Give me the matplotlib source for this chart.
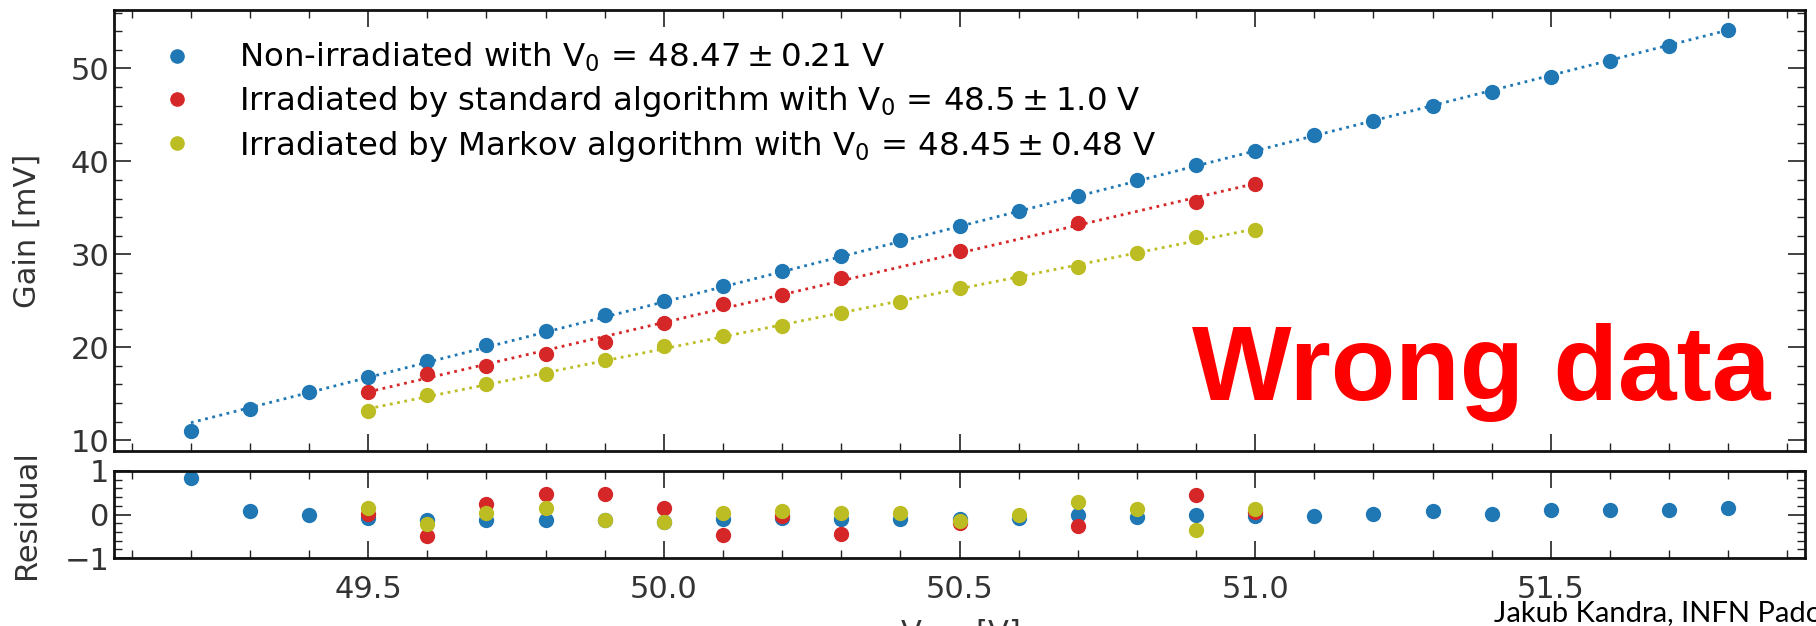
import numpy as np
import matplotlib
matplotlib.use("Agg")
import matplotlib.pyplot as plt
from matplotlib.ticker import MultipleLocator

# ---------------- data ----------------
v_blue = [49.2, 49.3, 49.4, 49.5, 49.6, 49.7, 49.8, 49.9, 50.0, 50.1, 50.2, 50.3, 50.4,
          50.5, 50.6, 50.7, 50.8, 50.9, 51.0, 51.1, 51.2, 51.3, 51.4, 51.5, 51.6, 51.7, 51.8]
g_blue = [11.0, 13.4, 15.2, 16.8, 18.5, 20.2, 21.8, 23.5, 25.0, 26.6, 28.2, 29.8, 31.5,
          33.1, 34.7, 36.3, 38.0, 39.6, 41.1, 42.8, 44.3, 46.0, 47.5, 49.1, 50.8, 52.4, 54.1]
r_blue = [0.85, 0.07, -0.02, -0.08, -0.13, -0.13, -0.12, -0.12, -0.17, -0.11, -0.09, -0.1, -0.1,
          -0.1, -0.09, 0.0, -0.06, -0.02, -0.04, -0.03, 0.02, 0.07, 0.01, 0.11, 0.11, 0.11, 0.16]

v_red = [49.5, 49.6, 49.7, 49.8, 49.9, 50.0, 50.1, 50.2, 50.3, 50.5, 50.7, 50.9, 51.0]
g_red = [15.2, 17.1, 18.0, 19.3, 20.6, 22.6, 24.7, 25.6, 27.5, 30.4, 33.4, 35.6, 37.6]
r_red = [0.02, -0.5, 0.23, 0.48, 0.48, 0.16, -0.48, -0.03, -0.44, -0.2, -0.26, 0.44, 0.06]

v_yel = [49.5, 49.6, 49.7, 49.8, 49.9, 50.0, 50.1, 50.2, 50.3, 50.4, 50.5, 50.6, 50.7, 50.8, 50.9, 51.0]
g_yel = [13.2, 14.9, 16.0, 17.1, 18.6, 20.1, 21.2, 22.3, 23.7, 24.9, 26.4, 27.5, 28.6, 30.1, 31.9, 32.6]
r_yel = [0.14, -0.22, 0.03, 0.15, -0.13, -0.17, 0.03, 0.07, 0.03, 0.03, -0.16, -0.01, 0.28, 0.13, -0.36, 0.12]

labels = [r"Non-irradiated with V$_0$ = $48.47 \pm 0.21$ V",
          r"Irradiated by standard algorithm with V$_0$ = $48.5 \pm 1.0$ V",
          r"Irradiated by Markov algorithm with V$_0$ = $48.45 \pm 0.48$ V"]
colors = ["#1f77b4", "#d62728", "#bcbd22"]

# ---------------- figure ----------------
plt.rcParams["font.family"] = ["DejaVu Sans"]
plt.rcParams["mathtext.default"] = "regular"
W, H = 1816, 626
fig = plt.figure(figsize=(W / 100, H / 100), dpi=100)

def frac(l, r, t, b):
    return [l / W, 1 - b / H, (r - l) / W, (b - t) / H]

ax = fig.add_axes(frac(114, 1805, 10, 451))
ax2 = fig.add_axes(frac(114, 1805, 471, 558), sharex=ax)

series = [(v_blue, g_blue, r_blue), (v_red, g_red, r_red), (v_yel, g_yel, r_yel)]
for (v, g, r), c, lab in zip(series, colors, labels):
    v = np.asarray(v); g = np.asarray(g)
    k, b0 = np.polyfit(v, g, 1)
    xs = np.array([v.min(), v.max()])
    ax.plot(xs, k * xs + b0, ls=":", color=c, lw=2.0)
    ax.plot(v, g, "o", ls="none", color=c, ms=10, label=lab)
    ax2.plot(v, r, "o", ls="none", color=c, ms=10)

ax2.set_ylim(-1, 1)
ax2.set_yticks([-1, 0, 1])
ax2.yaxis.set_minor_locator(MultipleLocator(0.2))
ax.xaxis.set_major_locator(MultipleLocator(0.5))
ax.xaxis.set_minor_locator(MultipleLocator(0.1))
ax.yaxis.set_major_locator(MultipleLocator(10))
ax.yaxis.set_minor_locator(MultipleLocator(2))

for a in (ax, ax2):
    a.tick_params(which="both", direction="in", top=True, right=True, labelsize=22,
                  colors="#222222", labelcolor="#333333")
    a.tick_params(which="major", length=12, width=1.2)
    a.tick_params(which="minor", length=6, width=1.0)
    for s in a.spines.values():
        s.set_linewidth(2.0)
        s.set_color("#111111")
plt.setp(ax.get_xticklabels(), visible=False)
ax2.tick_params(axis="x", pad=12)

ax.set_ylabel("Gain [mV]", fontsize=22, color="#333333")
ax2.set_ylabel("Residual", fontsize=22, color="#333333")
ax.yaxis.set_label_coords(-0.043, 0.5)
ax2.yaxis.set_label_coords(-0.043, 0.5)
ax2.set_xlabel(r"$V_{\mathrm{bias}}$ [V]", fontsize=22, color="#333333", labelpad=10)

ax.legend(loc="upper left", bbox_to_anchor=(0.0278, 0.93), frameon=False, fontsize=23.3,
          handlelength=1.0, handletextpad=1.4, borderpad=0, borderaxespad=0,
          labelspacing=0.3, markerscale=0.95)

fig.text(1771 / W, 1 - 400 / H, "Wrong data", color="#ff0000", fontsize=76,
         fontweight="bold", family=["Liberation Sans", "DejaVu Sans"],
         ha="right", va="baseline")
fig.text(1494 / W, 1 - 621 / H, "Jakub Kandra, INFN Padova", color="black", fontsize=21,
         family=["Lato", "DejaVu Sans"], ha="left", va="baseline")

fig.savefig("out.png", dpi=100)
